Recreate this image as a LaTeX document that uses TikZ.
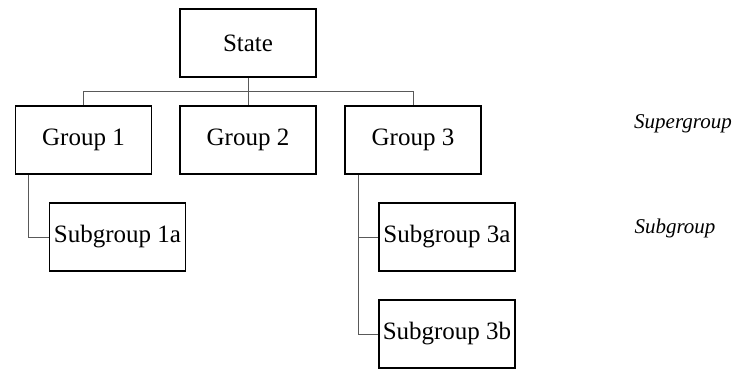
\documentclass[tikz,border=0pt]{standalone}
\usepackage{fontspec}
\setmainfont{Liberation Serif}
\usetikzlibrary{positioning,calc}

\begin{document}
\begin{tikzpicture}[x=1pt,y=1pt,node distance=97pt,on grid,
    box/.style={draw,line width=1.2pt,minimum width=136pt,minimum height=68pt,
      inner sep=1pt,font=\fontsize{25}{29}\selectfont},
    level/.style={font=\fontsize{21}{25}\selectfont\itshape},
    link/.style={draw=black!65,line width=1pt}]
   \useasboundingbox (0,0) rectangle (732,-368);

   \node[box] (state) at (248,-43) {State};

   % Gruppi
   \node[box] (g2) [below=of state] {Group 2};
   \node[box] (g1) [left=164.5pt of g2] {Group 1};
   \node[box] (g3) [right=165pt of g2] {Group 3};

   % Sottogruppi
   \node[box] (s1a) [below right=97pt and 34pt of g1] {Subgroup 1a};
   \node[box] (s3a) [below right=97pt and 34pt of g3] {Subgroup 3a};
   \node[box] (s3b) [below=of s3a] {Subgroup 3b};

   % Etichette dei livelli
   \node[level] (super) at (683,-124) {Supergroup};
   \node[level] (sub) at (675,-228) {Subgroup};

   \coordinate (bus) at ($(state.south)!0.5!(g2.north)$);
   \path[link]
    (state) -- (g2)
    (g1.north) |- (bus) -| (g3.north)
    ($(g1.south west)+(14pt,0)$) |- (s1a.west)
    ($(g3.south west)+(14pt,0)$) |- (s3a.west)
    ($(g3.south west)+(14pt,0)$) |- (s3b.west);
\end{tikzpicture}
\end{document}
